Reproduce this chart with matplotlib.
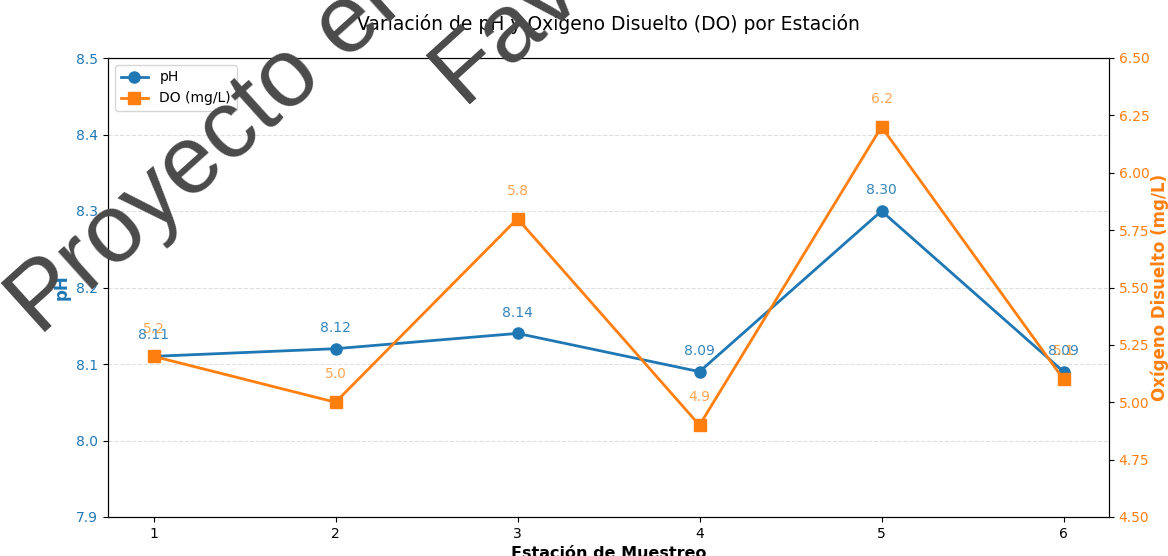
import matplotlib
matplotlib.use("Agg")
import matplotlib.pyplot as plt

estaciones = [1, 2, 3, 4, 5, 6]
ph = [8.11, 8.12, 8.14, 8.09, 8.30, 8.09]
do = [5.2, 5.0, 5.8, 4.9, 6.2, 5.1]
ph_ticks = [7.9, 8.0, 8.1, 8.2, 8.3, 8.4, 8.5]
do_ticks = [4.50, 4.75, 5.00, 5.25, 5.50, 5.75, 6.00, 6.25, 6.50]

c_ph = "#1f77b4"
c_do = "#ff7f0e"

fig = plt.figure(figsize=(11.68, 5.56), dpi=100)
ax1 = fig.add_axes([108/1168, 1-517/556, (1109-108)/1168, (517-58)/556])
ax2 = ax1.twinx()

l1, = ax1.plot(estaciones, ph, color=c_ph, marker="o", markersize=8, linewidth=2, label="pH")
l2, = ax2.plot(estaciones, do, color=c_do, marker="s", markersize=8, linewidth=2, label="DO (mg/L)")

for x, y in zip(estaciones, ph):
    ax1.annotate(f"{y:.2f}", (x, y), xytext=(0, 10), textcoords="offset points",
                 ha="center", va="bottom", color=c_ph, fontsize=10, alpha=0.9)
for x, y in zip(estaciones, do):
    ax2.annotate(f"{y:.1f}", (x, y), xytext=(0, 15), textcoords="offset points",
                 ha="center", va="bottom", color=c_do, fontsize=10, alpha=0.7)

ax1.set_ylim(7.9, 8.5)
ax1.set_yticks(ph_ticks)
ax2.set_ylim(4.5, 6.5)
ax2.set_yticks(do_ticks)
ax1.set_xticks(estaciones)
ax1.set_xlim(0.75, 6.25)

ax1.tick_params(axis="y", colors=c_ph, labelsize=10)
ax1.tick_params(axis="y", color="black")
ax2.tick_params(axis="y", labelcolor=c_do, labelsize=10)
ax1.tick_params(axis="x", labelsize=10)

ax1.set_ylabel("pH", color=c_ph, fontsize=12, fontweight="bold")
ax2.set_ylabel("Oxígeno Disuelto (mg/L)", color=c_do, fontsize=12, fontweight="bold", labelpad=1)
ax1.set_xlabel("Estación de Muestreo", fontsize=11.5, fontweight="bold")
ax1.set_title("Variación de pH y Oxígeno Disuelto (DO) por Estación", fontsize=13.5, pad=20)

ax1.grid(axis="y", linestyle="--", alpha=0.4)
ax1.legend([l1, l2], ["pH", "DO (mg/L)"], loc="upper left", fontsize=10)

# watermark
wm_color = "#4a4a4a"
fig.text(40/1168, 1-337/556, "Proyecto el", rotation=42, rotation_mode="anchor",
         ha="left", va="baseline", fontsize=70, family="Liberation Sans",
         color=wm_color, zorder=10)
fig.text(462/1168, 1-104/556, "Fav", rotation=42, rotation_mode="anchor",
         ha="left", va="baseline", fontsize=70, family="Liberation Sans",
         color=wm_color, zorder=10)

fig.savefig("out.png", dpi=100)
